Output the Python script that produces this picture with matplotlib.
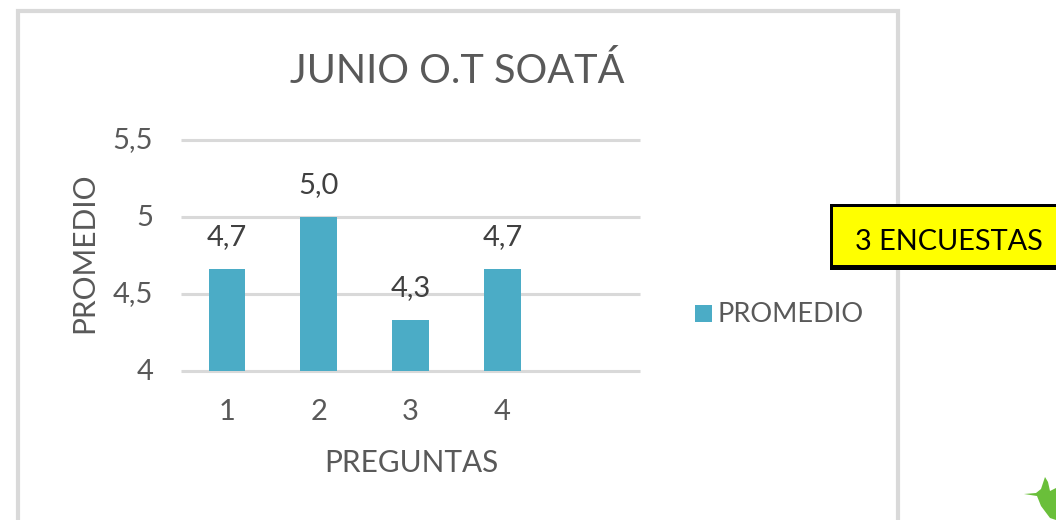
import matplotlib
matplotlib.use("Agg")
import matplotlib.pyplot as plt
from matplotlib.patches import Rectangle, Polygon
from matplotlib.transforms import ScaledTranslation

categories = ["1", "2", "3", "4"]
values = [4.66, 5.0, 4.33, 4.66]
value_labels = ["4,7", "5,0", "4,3", "4,7"]
y_ticks = [4, 4.5, 5, 5.5]
y_tick_labels = ["4", "4,5", "5", "5,5"]
title = "JUNIO O.T SOATÁ"
x_title = "PREGUNTAS"
y_title = "PROMEDIO"
legend_label = "PROMEDIO"
note = "3 ENCUESTAS"

W, H = 1056, 520
plt.rcParams["font.family"] = ["Lato", "DejaVu Sans"]
TEXT = "#595959"
GRID = "#d9d9d9"
BAR = "#4bacc6"

fig = plt.figure(figsize=(W / 100, H / 100), dpi=100, facecolor="white")
bg = fig.add_axes([0, 0, 1, 1], zorder=0)
bg.set_xlim(0, W)
bg.set_ylim(H, 0)
bg.axis("off")
# chart frame
bg.add_patch(Rectangle((18, 11), 880, H + 20, fc="white", ec=GRID, lw=3))

# main plot
ax = fig.add_axes([181 / W, 1 - 371 / H, (640 - 181) / W, (371 - 140) / H], zorder=1)
ax.patch.set_alpha(0)
pos = list(range(1, len(categories) + 1))
ax.bar(pos, values, width=0.4, color=BAR, zorder=3)
ax.set_xlim(0.5, 5.5)
ax.set_ylim(4, 5.5)
ax.set_xticks(pos, categories)
ax.set_yticks(y_ticks, y_tick_labels)
ax.grid(axis="y", color=GRID, lw=2.2, zorder=1, clip_on=False, solid_capstyle="butt")
ax.set_axisbelow(True)
for s in ax.spines.values():
    s.set_visible(False)
ax.tick_params(length=0, labelsize=21, labelcolor=TEXT)
ax.tick_params(axis="x", pad=20)
ax.tick_params(axis="y", pad=20)
for lab in ax.get_yticklabels():
    lab.set_transform(lab.get_transform() + ScaledTranslation(0, 2 / 100, fig.dpi_scale_trans))
for p, v, t in zip(pos, values, value_labels):
    ax.annotate(t, (p, v), xytext=(0, 14), textcoords="offset points",
                ha="center", va="bottom", fontsize=21, color="#404040")

fig.text(457 / W, 1 - 71 / H, title, ha="center", va="center", fontsize=28.5, color=TEXT)
fig.text(411 / W, 1 - 463 / H, x_title, ha="center", va="center", fontsize=21.4, color=TEXT)
fig.text(84 / W, 1 - 253 / H, y_title, ha="center", va="center", rotation=90, fontsize=21.5, color=TEXT)

# legend
bg.add_patch(Rectangle((695, 305), 17, 17, fc=BAR, ec="none"))
bg.text(718, 315, legend_label, ha="left", va="center", fontsize=19.5, color=TEXT)

# yellow note
bg.add_patch(Rectangle((830, 204), 240, 66, fc="black", ec="none", zorder=4))
bg.add_patch(Rectangle((833, 207), 240, 58, fc="#ffff00", ec="none", zorder=5))
bg.text(855, 242, note, ha="left", va="center", fontsize=20.8, color="black", zorder=6)

# hummingbird decoration
bg.add_patch(Polygon([(1024, 494), (1036, 493), (1041, 489), (1045, 477), (1048, 482),
                      (1050, 491), (1056, 488), (1056, 520), (1050, 518), (1041, 506),
                      (1037, 496)], fc="#6abf3a", ec="none"))

fig.savefig("out.png", dpi=100)
